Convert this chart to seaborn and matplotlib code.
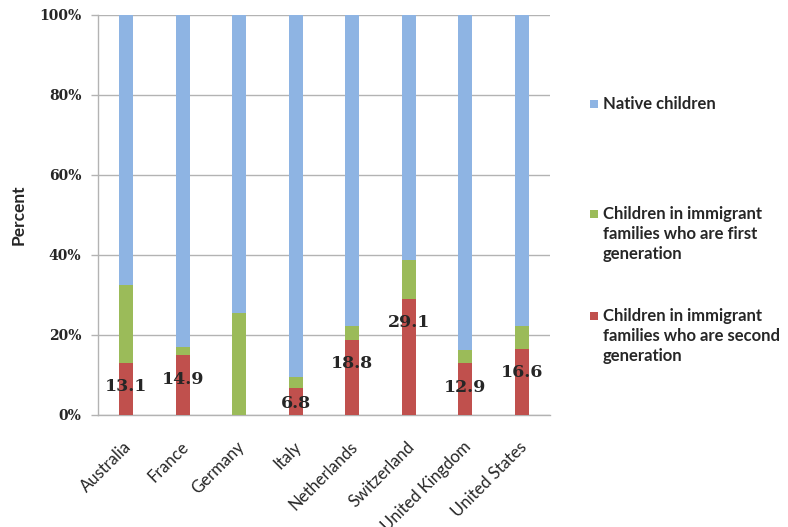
import matplotlib
matplotlib.use("Agg")
import matplotlib.pyplot as plt
import matplotlib.patches as mpatches
import matplotlib.transforms as mtransforms
import seaborn as sns
import pandas as pd
import numpy as np

countries = ["Australia", "France", "Germany", "Italy", "Netherlands",
             "Switzerland", "United Kingdom", "United States"]
second_gen = [13.1, 14.9, 0.0, 6.8, 18.8, 29.1, 12.9, 16.6]
first_gen = [19.4, 2.2, 25.4, 2.7, 3.5, 9.6, 3.4, 5.7]
second_labels = ["13.1", "14.9", None, "6.8", "18.8", "29.1", "12.9", "16.6"]
yticks = [0, 20, 40, 60, 80, 100]
ytick_labels = ["0%", "20%", "40%", "60%", "80%", "100%"]
series_names = ["Native children",
                "Children in immigrant\nfamilies who are first\ngeneration",
                "Children in immigrant\nfamilies who are second\ngeneration"]

BLUE = "#8EB4E3"
GREEN = "#9BBB59"
RED = "#C0504D"

df = pd.DataFrame({
    "country": countries,
    "second": second_gen,
    "first": first_gen,
})
df["imm_total"] = df["second"] + df["first"]
df["native"] = 100 - df["imm_total"]
df["total"] = df["imm_total"] + df["native"]

sns.set_theme(style="white")
plt.rcParams["font.family"] = ["Lato", "DejaVu Sans"]

fig = plt.figure(figsize=(7.88, 5.27), dpi=100)
ax = fig.add_axes([98 / 788, 112 / 527, 452 / 788, 400 / 527])

bw = 0.25
sns.barplot(data=df, x="country", y="total", color=BLUE, width=bw,
            saturation=1, ax=ax, order=countries, linewidth=0, zorder=2)
sns.barplot(data=df, x="country", y="imm_total", color=GREEN, width=bw,
            saturation=1, ax=ax, order=countries, linewidth=0, zorder=3)
sns.barplot(data=df, x="country", y="second", color=RED, width=bw,
            saturation=1, ax=ax, order=countries, linewidth=0, zorder=4)

ax.set_xlim(-0.5, len(countries) - 0.5)
ax.set_ylim(0, 100)
ax.set_yticks(yticks)
ax.set_yticklabels(ytick_labels, family="DejaVu Serif",
                   fontweight="bold", fontsize=10)
ax.set_xticks(range(len(countries)))
ax.set_xticklabels(countries, rotation=45, ha="right", va="center",
                   rotation_mode="anchor", fontsize=12)
ax.set_xlabel("")
ax.set_ylabel("Percent", fontweight="bold", fontsize=12.5, labelpad=9)

ax.yaxis.grid(True, color="#B3B3B3", linewidth=1, zorder=0)
ax.set_axisbelow(True)
for s in ["top", "right"]:
    ax.spines[s].set_visible(False)
for s in ["left", "bottom"]:
    ax.spines[s].set_color("#B3B3B3")
    ax.spines[s].set_linewidth(1)
ax.tick_params(axis="y", which="major", left=True, length=5, width=1,
               color="#B3B3B3", pad=7)
ax.tick_params(axis="x", which="major", bottom=False, pad=15)

shift = mtransforms.ScaledTranslation(3 / 100, 0, fig.dpi_scale_trans)
for lbl in ax.get_xticklabels():
    lbl.set_transform(lbl.get_transform() + shift)

for i, (v, lab) in enumerate(zip(second_gen, second_labels)):
    if lab is None:
        continue
    y = max(v - 6.0, 3.0)
    ax.text(i, y, lab, ha="center", va="center", family="DejaVu Serif",
            fontweight="bold", fontsize=12.5, zorder=6)

# Legend (manual, to align each swatch with the first text line)
legend_colors = [BLUE, GREEN, RED]
legend_y = [104, 214, 316]
for name, col, yy in zip(series_names, legend_colors, legend_y):
    fig.patches.append(mpatches.Rectangle(
        (590 / 788, 1 - (yy + 4) / 527), 8 / 788, 8 / 527,
        transform=fig.transFigure, facecolor=col, edgecolor="none"))
    fig.text(603 / 788, 1 - (yy - 8) / 527, name, ha="left", va="top",
             fontsize=12, fontweight="bold", linespacing=1.3)

fig.savefig("out.png", dpi=100)
